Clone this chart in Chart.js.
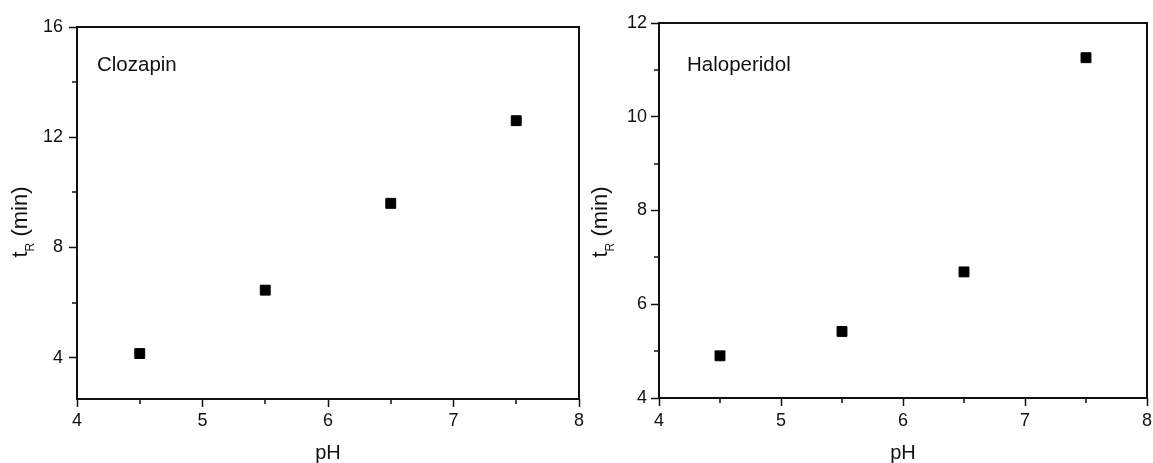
<!DOCTYPE html>
<html>
<head>
<meta charset="utf-8">
<title>Retention time vs pH</title>
<script src="https://cdn.jsdelivr.net/npm/chart.js@4.4.1/dist/chart.umd.min.js"></script>
<style>
  html, body { margin: 0; padding: 0; background: #fff; }
  #wrap { position: relative; width: 1153px; height: 463px; overflow: hidden; }
  canvas { position: absolute; top: 0; }
  #clozapinChart { left: 0; }
  #haloperidolChart { left: 590px; }
</style>
</head>
<body>
<div id="wrap">
  <canvas id="clozapinChart" width="590" height="463"></canvas>
  <canvas id="haloperidolChart" width="570" height="463"></canvas>
</div>
<script>
// Mobile-phase pH and measured retention times (min)
const phValues = [4.5, 5.5, 6.5, 7.5];
const clozapinTimes = [4.15, 6.45, 9.6, 12.6];
const haloperidolTimes = [4.9, 5.42, 6.69, 11.26];

// Axis ticks
const phTicks = [4, 5, 6, 7, 8];
const phMinorTicks = [4.5, 5.5, 6.5, 7.5];
const clozapinTicks = [4, 8, 12, 16];
const clozapinMinorTicks = [6, 10, 14];
const haloperidolTicks = [4, 6, 8, 10, 12];
const haloperidolMinorTicks = [5, 7, 9, 11];

const INK = '#111';
const FONT = '"Liberation Sans", Arial, sans-serif';

// Frame, minor ticks, panel name and axis titles
const decorations = {
  id: 'decorations',
  afterDraw(chart, args, o) {
    const { ctx, chartArea: a, scales } = chart;
    ctx.save();
    ctx.strokeStyle = INK;
    ctx.lineWidth = 2;
    ctx.strokeRect(a.left, a.top, a.right - a.left, a.bottom - a.top);

    ctx.lineWidth = 1.5;
    ctx.beginPath();
    o.minorX.forEach(v => {
      const x = Math.round(scales.x.getPixelForValue(v));
      ctx.moveTo(x, a.bottom);
      ctx.lineTo(x, a.bottom + o.minorLen);
    });
    o.minorY.forEach(v => {
      const y = Math.round(scales.y.getPixelForValue(v));
      ctx.moveTo(a.left, y);
      ctx.lineTo(a.left - o.minorLen, y);
    });
    ctx.stroke();

    ctx.fillStyle = INK;
    ctx.font = '20.5px ' + FONT;
    ctx.textAlign = 'left';
    ctx.textBaseline = 'alphabetic';
    ctx.fillText(o.name, a.left + o.nameDx, o.nameY);

    // x title
    ctx.font = '20px ' + FONT;
    ctx.textAlign = 'center';
    ctx.fillText('pH', (a.left + a.right) / 2, o.xTitleY);

    // y title: t with subscript R, then (min)
    const main = '22px ' + FONT, sub = '12px ' + FONT;
    ctx.font = main; const wT = ctx.measureText('t').width;
    const wRest = ctx.measureText(' (min)').width;
    ctx.font = sub; const wR = ctx.measureText('R').width;
    const total = wT + wR + wRest;
    ctx.translate(o.yTitleX, o.yTitleY);
    ctx.rotate(-Math.PI / 2);
    ctx.textAlign = 'left';
    let x = -total / 2;
    ctx.font = main; ctx.fillText('t', x, 0); x += wT;
    ctx.font = sub; ctx.fillText('R', x, 7); x += wR;
    ctx.font = main; ctx.fillText(' (min)', x, 0);
    ctx.restore();
  }
};

function makeChart(id, cfg) {
  return new Chart(document.getElementById(id), {
    type: 'scatter',
    data: {
      datasets: [{
        data: phValues.map((p, i) => ({ x: p, y: cfg.times[i] })),
        pointStyle: 'rect',
        pointRadius: 7,
        pointHoverRadius: 7,
        backgroundColor: '#000',
        borderColor: '#000',
        borderWidth: 1
      }]
    },
    options: {
      responsive: false,
      animation: false,
      events: [],
      layout: { padding: cfg.padding },
      plugins: {
        legend: { display: false },
        tooltip: { enabled: false },
        decorations: {
          name: cfg.name, nameDx: cfg.nameDx, nameY: 71,
          minorX: phMinorTicks, minorY: cfg.minorY, minorLen: 5,
          xTitleY: 459, yTitleX: cfg.yTitleX, yTitleY: 222
        }
      },
      scales: {
        x: {
          type: 'linear', min: 4, max: 8,
          afterBuildTicks: s => { s.ticks = phTicks.map(v => ({ value: v })); },
          afterFit: s => { s.height = cfg.xHeight; },
          border: { display: false },
          grid: { drawOnChartArea: false, drawTicks: true, tickLength: 8, tickWidth: 1.5, tickColor: INK },
          ticks: { color: INK, padding: cfg.xPad, font: { family: FONT, size: 18 }, maxRotation: 0 }
        },
        y: {
          type: 'linear', min: cfg.yMin, max: cfg.yMax,
          afterBuildTicks: s => { s.ticks = cfg.yTicks.map(v => ({ value: v })); },
          afterFit: s => { s.width = cfg.yWidth; },
          border: { display: false },
          grid: { drawOnChartArea: false, drawTicks: true, tickLength: 8, tickWidth: 1.5, tickColor: INK },
          ticks: { color: INK, padding: cfg.yPad, font: { family: FONT, size: 18 } }
        }
      }
    },
    plugins: [decorations]
  });
}

makeChart('clozapinChart', {
  name: 'Clozapin', nameDx: 20, times: clozapinTimes,
  yMin: 2.5, yMax: 16, yTicks: clozapinTicks, minorY: clozapinMinorTicks,
  padding: { left: 0, top: 27, right: 11, bottom: 0 },
  yWidth: 77, xHeight: 64, xPad: 3, yPad: 6, yTitleX: 27
});

makeChart('haloperidolChart', {
  name: 'Haloperidol', nameDx: 28, times: haloperidolTimes,
  yMin: 4, yMax: 12, yTicks: haloperidolTicks, minorY: haloperidolMinorTicks,
  padding: { left: 0, top: 23, right: 13, bottom: 0 },
  yWidth: 69, xHeight: 65, xPad: 4, yPad: 4, yTitleX: 17
});
</script>
</body>
</html>
